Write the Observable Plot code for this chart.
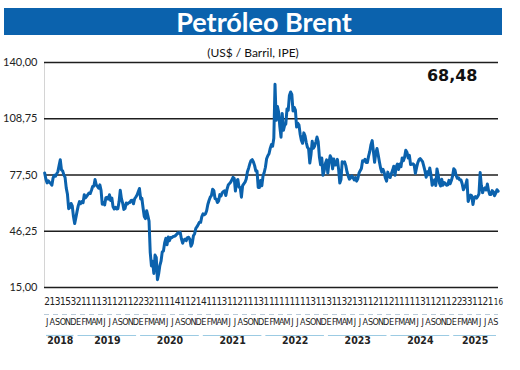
<!DOCTYPE html>
<html><head><meta charset="utf-8">
<script src="https://cdn.jsdelivr.net/npm/d3@7"></script>
<script src="https://cdn.jsdelivr.net/npm/@observablehq/plot@0.6"></script>
<style>
body{margin:0;background:#fff;}
#wrap{position:relative;width:520px;height:370px;overflow:hidden;background:#fff;}
#chart{position:absolute;left:0;top:0;}
#title{position:absolute;left:4px;top:8px;width:498px;height:27px;box-sizing:border-box;padding-left:22px;background:#0b62ad;color:#fff;font:bold 27px Lato, "Open Sans", sans-serif;text-align:center;line-height:27px;}
#sub{position:absolute;left:0;top:45px;width:506px;text-align:center;font:12px Lato, "Open Sans", sans-serif;color:#111;}
</style></head>
<body><div id="wrap"><div id="chart"></div><div id="title">Petróleo Brent</div><div id="sub">(US$ / Barril, IPE)</div></div>
<script>
// Weekly Brent values (US$/barrel), Mondays from 2018-07-02
const w2018 = [78.6,75.3,73.1,74.3,73.5, 72.8,71.8,75.8,77.4, 76.8,78.1,79.4,82.7, 86.0,80.4,79.8,77.6,76.2, 70.2,66.8,58.8,59.5, 61.7,60.3,54.4,50.5,53.8];
const w2019 = [57.3,60.5,62.7,61.6, 62.8,62.1,66.5,64.8, 65.7,66.6,67.5,67.2, 69.0,71.1,71.2,75.0,72.0, 71.2,70.2,72.0,69.0, 61.3,62.3,60.9,64.9, 65.1,64.1,66.5,63.3,64.7, 59.8,58.6,59.6,58.6, 58.7,62.6,69.0,64.3,61.9, 58.4,59.0,61.9,61.4, 62.1,62.2,63.4,63.5, 61.5,64.3,65.3,66.4,68.2];
const w2020 = [70.0,64.2,64.6,59.3, 54.5,53.3,57.7,55.0, 51.9,34.4,27.0,29.5,22.8, 33.0,31.7,19.3,22.5, 27.2,29.6,34.8,35.3, 39.8,42.3,38.7,43.1,41.0, 42.8,42.7,43.3,43.4, 43.8,44.5,45.4,45.1,45.6, 42.0,39.6,41.4,41.9, 41.0,42.7,42.9,41.8, 37.9,39.5,43.8,44.9,47.9, 48.8,50.0,51.3,51.2];
const w2021 = [54.4,55.9,55.4,55.9, 57.6,61.1,63.3,65.2, 66.1,69.6,68.9,64.4,64.1, 62.2,63.0,66.6,65.9, 67.6,68.3,68.7,66.1,69.6, 71.9,72.7,73.5,74.7, 76.2,75.6,68.6,74.1, 75.0,70.7,70.6,65.2,71.6, 72.6,73.5,75.3,79.3, 81.3,83.7,85.5,86.0, 84.7,82.7,79.7,79.7,70.6, 70.6,74.4,71.5,76.9];
const w2022 = [78.9,81.8,86.5,88.2,89.3, 92.3,94.4,93.5,97.9, 127.9,107.9,115.6,112.5, 104.4,98.5,111.7,102.3, 105.0,105.9,114.2,113.4,121.7, 123.6,122.3,113.1,115.1, 113.5,104.1,106.3,105.2, 100.0,96.7,95.1,100.9,99.3, 95.7,93.0,92.0,84.1, 88.9,96.2,92.4,93.5,95.8, 98.6,96.0,87.5,83.2, 86.9,77.3,79.8,83.9];
const w2023 = [85.9,78.6,84.5,88.2,86.7, 80.9,86.4,83.0,83.2, 86.2,80.8,73.0,75.0, 84.9,84.2,84.8,82.7, 79.3,77.0,75.2,75.9,77.1, 76.1,74.8,76.1,74.1, 75.4,78.5,79.9,81.1,85.4, 85.1,86.2,84.5,84.5, 88.0,90.6,94.4,96.6, 90.7,84.6,89.7,92.2,88.7, 84.9,81.4,79.1,80.6, 78.9,75.8,74.1,79.1];
const w2024 = [77.0,76.1,78.3,80.1,82.4, 77.3,82.0,83.6,80.6, 83.6,82.1,86.9,85.4, 87.4,91.2,90.1,87.0,88.4, 83.3,83.4,83.7,83.1, 78.4,81.6,84.3,86.0, 86.6,85.8,84.9,82.4,79.8, 76.3,79.3,77.7,81.4, 77.5,71.8,73.0,74.9,71.7, 80.9,77.5,73.1,71.4, 75.1,71.8,73.3,72.8, 71.8,72.0,74.5,72.6,74.4];
const w2025 = [76.9,81.0,80.2,77.1, 75.7,75.9,74.8,74.7, 72.6,69.3,70.6,72.2,74.8, 62.8,64.9,66.3,65.9, 61.1,64.9,65.5,64.7, 65.6,67.0,78.9,71.5,67.7, 69.6,70.4,69.2,72.5, 68.8,66.6,66.6,68.8, 68.2,66.0,67.4,69.3,68.48];

const monthLetters = ["J","A","S","O","N","D",
  "E","F","M","A","M","J","J","A","S","O","N","D",
  "E","F","M","A","M","J","J","A","S","O","N","D",
  "E","F","M","A","M","J","J","A","S","O","N","D",
  "E","F","M","A","M","J","J","A","S","O","N","D",
  "E","F","M","A","M","J","J","A","S","O","N","D",
  "E","F","M","A","M","J","J","A","S","O","N","D",
  "E","F","M","A","M","J","J","A","S"];
const monthDigits = ["2","1","3","1","5","3",
  "2","1","1","1","1","3","1","1","2","1","1","2",
  "2","3","2","1","1","1","1","4","1","1","2","1",
  "4","1","1","1","3","1","1","2","1","1","1","3",
  "1","1","1","1","1","1","1","1","1","3","1","1",
  "3","1","1","3","2","1","3","1","1","2","1","1",
  "2","1","1","1","1","1","3","1","1","2","1","1",
  "2","2","3","3","1","1","2","1","16"];
const years = ["2018","2019","2020","2021","2022","2023","2024","2025"];
const yTicks = [15, 46.25, 77.5, 108.75, 140];

const values = [].concat(w2018, w2019, w2020, w2021, w2022, w2023, w2024, w2025);
const start = new Date(2018, 6, 2);
const data = values.map((v, i) => ({date: d3.timeWeek.offset(start, i), value: v}));
const months = monthLetters.map((m, i) => {
  const d0 = d3.timeMonth.offset(new Date(2018, 6, 1), i);
  return {letter: m, digit: monthDigits[i], mid: new Date(d0.getFullYear(), d0.getMonth(), 16)};
});
const x0 = new Date(2018, 6, 1), x1 = new Date(2025, 9, 1);
const spans = years.map(y => {
  const s = new Date(Math.max(new Date(+y, 0, 1), x0));
  const e = new Date(Math.min(new Date(+y + 1, 0, 1), x1));
  return {year: y, start: s, end: e, mid: new Date((+s + +e) / 2)};
});
const last = values[values.length - 1];
const fmt = v => v.toFixed(2).replace(".", ",");
const narrow = "'Liberation Sans Narrow', 'DejaVu Sans Condensed', 'Roboto Condensed', Roboto, sans-serif";

const chart = Plot.plot({
  width: 520, height: 370,
  marginLeft: 44, marginRight: 22, marginTop: 62, marginBottom: 83,
  style: {fontFamily: "Lato, 'Open Sans', sans-serif", fontSize: "11px", color: "#222", background: "transparent"},
  x: {domain: [x0, x1], axis: null},
  y: {domain: [15, 140], ticks: yTicks, tickFormat: fmt, tickSize: 0, tickPadding: 7, label: null},
  marks: [
    Plot.ruleX([x0], {stroke: "#d4d4d4", strokeWidth: 1}),
    Plot.ruleY(yTicks, {stroke: "#1e1e1e", strokeWidth: 1.5}),
    Plot.ruleY([15], {dy: 27, stroke: "#b9cad8", strokeDasharray: "5,4"}),
    Plot.ruleY(spans, {y: () => 15, x1: "start", x2: "end", dy: 48, insetLeft: 2, insetRight: 2, stroke: "#9ccbe3", strokeWidth: 1.2}),
    Plot.lineY(data, {x: "date", y: "value", stroke: "#0b62ad", strokeWidth: 3, strokeLinejoin: "round"}),
    Plot.text(months.slice(0, -1), {x: "mid", text: "digit", frameAnchor: "bottom", dy: 17, fontFamily: narrow, fontSize: 10, fill: "#222"}),
    Plot.text(months.slice(-1), {x: "mid", text: "digit", frameAnchor: "bottom", dy: 17, dx: 2.5, fontFamily: narrow, fontSize: 8, fill: "#222"}),
    Plot.text(months, {x: "mid", text: "letter", frameAnchor: "bottom", dy: 37, fontFamily: narrow, fontSize: 9, fill: "#222"}),
    Plot.text(spans, {x: "mid", text: "year", frameAnchor: "bottom", dy: 56, fontFamily: narrow, fontWeight: "bold", fontSize: 10.5, fill: "#222"}),
    Plot.text([last], {text: d => fmt(d), frameAnchor: "top-right", textAnchor: "end", lineAnchor: "middle", dx: -21, dy: 13, fontFamily: "'DejaVu Sans', sans-serif", fontWeight: "bold", fontSize: 16, fill: "#111"})
  ]
});
document.getElementById("chart").appendChild(chart);
</script></body></html>
